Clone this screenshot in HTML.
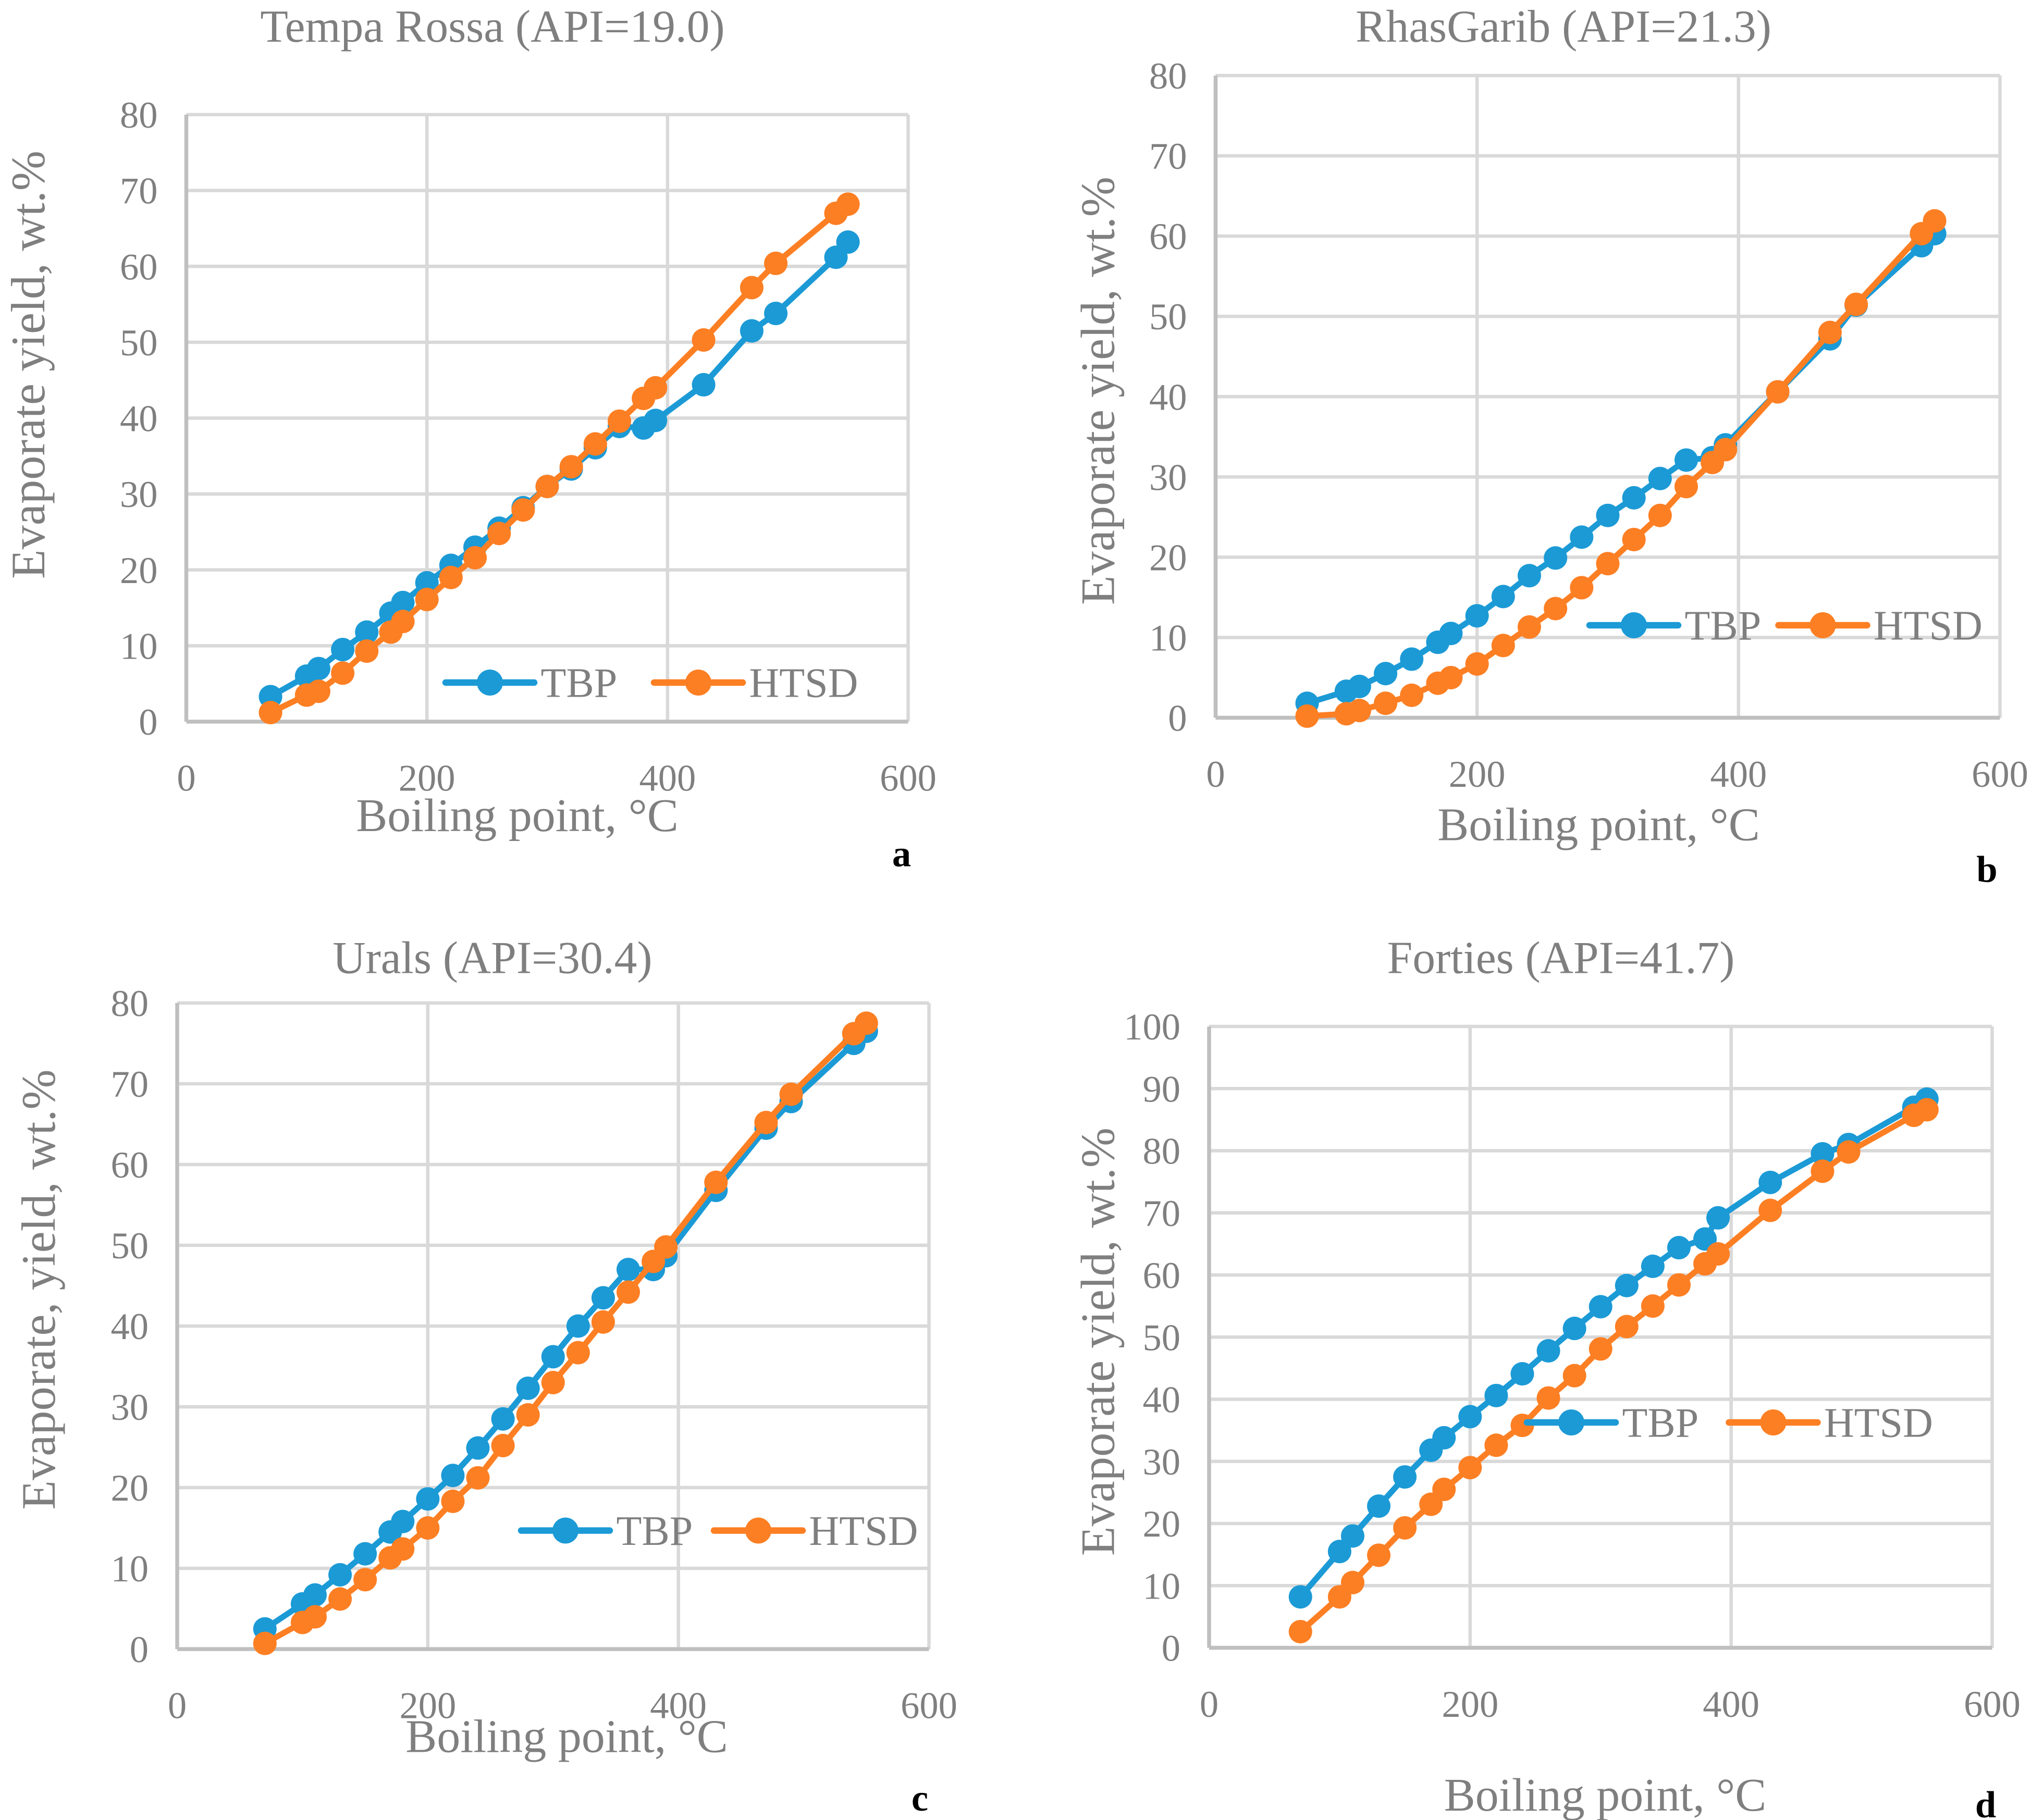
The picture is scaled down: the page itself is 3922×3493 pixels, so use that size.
<!DOCTYPE html>
<html><head><meta charset="utf-8">
<style>
html,body{margin:0;padding:0;background:#fff;}
svg{display:block;}
text{font-family:"Liberation Serif",serif;fill:#7f7f7f;}
</style></head>
<body>
<svg id="fig" width="3922" height="3493" viewBox="0 0 1568.8 1397.2" xmlns="http://www.w3.org/2000/svg"></svg>
<script>
const xVals = [70,100,110,130,150,170,180,200,220,240,260,280,300,320,340,360,380,390,430,470,490,540,550];
const tbpA = [3.3,6,7,9.5,11.8,14.3,15.7,18.3,20.6,23,25.5,28.2,31,33.3,36.1,38.9,38.7,39.7,44.4,51.5,53.8,61.2,63.2];
const htsdA = [1.2,3.5,4,6.4,9.3,11.8,13.2,16.1,19,21.6,24.8,27.9,31,33.6,36.6,39.6,42.6,44,50.3,57.2,60.4,67,68.2];
const tbpB = [1.8,3.3,3.9,5.5,7.3,9.4,10.5,12.7,15.1,17.7,19.9,22.5,25.2,27.4,29.8,32.1,32.4,34,40.6,47.2,51.4,58.8,60.3];
const htsdB = [0.2,0.5,0.9,1.8,2.8,4.3,5,6.7,9,11.3,13.6,16.2,19.2,22.2,25.2,28.8,31.8,33.4,40.6,48,51.5,60.3,61.9];
const tbpC = [2.5,5.6,6.7,9.2,11.8,14.5,15.8,18.6,21.5,24.9,28.5,32.3,36.2,40,43.5,47,47,48.7,56.8,64.5,67.8,75,76.5];
const htsdC = [0.7,3.3,4,6.2,8.6,11.3,12.4,15,18.3,21.2,25.2,29,33,36.7,40.5,44.2,48,49.8,57.8,65.2,68.7,76.2,77.5];
const tbpD = [8.2,15.5,18,22.8,27.5,31.8,33.8,37.2,40.6,44.1,47.8,51.4,54.9,58.3,61.4,64.4,65.8,69.2,74.9,79.5,81,87,88.3];
const htsdD = [2.6,8.2,10.5,14.9,19.3,23.1,25.5,29,32.6,35.8,40.2,43.8,48.1,51.7,55,58.4,61.8,63.4,70.4,76.7,79.8,85.7,86.6];
const xTicks = [0,200,400,600];
const titles = ["Tempa Rossa (API=19.0)","RhasGarib (API=21.3)","Urals (API=30.4)","Forties (API=41.7)"];
const yTitles = ["Evaporate yield, wt.%","Evaporate yield, wt.%","Evaporate, yield, wt.%","Evaporate yield, wt.%"];
const letters = ["a","b","c","d"];
const yMaxes = [80,80,80,100];

const NS="http://www.w3.org/2000/svg";
const svg=document.getElementById('fig');
function mk(tag,attrs,parent){const e=document.createElementNS(NS,tag);for(const k in attrs)e.setAttribute(k,attrs[k]);(parent||svg).appendChild(e);return e;}

const panels=[
 {x0:143,x1:697,y0:554,y1:88,title:[378,30],yt:[22,280],xt:[397,638],let:[692,655],leg:[342,502,524],tb:tbpA,ht:htsdA},
 {x0:933,x1:1535,y0:551,y1:58,title:[1200,30],yt:[843,300],xt:[1227,645],let:[1525,667],leg:[1220,1365,480],tb:tbpB,ht:htsdB},
 {x0:136,x1:713,y0:1266,y1:770,title:[378,745],yt:[30,990],xt:[435,1345],let:[706,1380],leg:[400,548,1175],tb:tbpC,ht:htsdC},
 {x0:928,x1:1529,y0:1265,y1:788,title:[1198,745],yt:[843,1030],xt:[1232,1390],let:[1524,1385],leg:[1172,1327,1092],tb:tbpD,ht:htsdD}
];
const BLUE="#1b9ad6", ORANGE="#fd7f23";

panels.forEach((p,i)=>{
  const g=mk('g',{});
  
  
  const yMax=yMaxes[i];
  const sx=v=>p.x0+(v/600)*(p.x1-p.x0);
  const sy=v=>p.y0-(v/yMax)*(p.y0-p.y1);
  for(let v=10;v<=yMax;v+=10){
    const l=mk('line',{x1:p.x0,x2:p.x1,y1:sy(v),y2:sy(v),stroke:'#d9d9d9','stroke-width':2.6},g);
    
    
  }
  xTicks.forEach(t=>{
    if(t>0){const l=mk('line',{x1:sx(t),x2:sx(t),y1:p.y1,y2:p.y0,stroke:'#d9d9d9','stroke-width':2.6},g);
    
    }
    const tx=mk('text',{x:sx(t),y:p.y0+53,'font-size':29,'text-anchor':'middle'},g);
    tx.textContent=t;
    
    
  });
  for(let v=0;v<=yMax;v+=10){
    const tx=mk('text',{x:p.x0-22,y:sy(v)+10,'font-size':29,'text-anchor':'end'},g);
    tx.textContent=v;
    
    
  }
  const ya=mk('line',{x1:p.x0,x2:p.x0,y1:p.y1,y2:p.y0,stroke:'#bfbfbf','stroke-width':3},g);
  
  
  const xa=mk('line',{x1:p.x0,x2:p.x1,y1:p.y0,y2:p.y0,stroke:'#bfbfbf','stroke-width':3},g);
  
  
  [[p.tb,BLUE,'tbp'],[p.ht,ORANGE,'htsd']].forEach(([arr,col,nm])=>{
    const pts=xVals.map((x,k)=>sx(x)+','+sy(arr[k])).join(' ');
    const pl=mk('polyline',{points:pts,fill:'none',stroke:col,'stroke-width':4.5,'stroke-linejoin':'round'},g);
    
    
    xVals.forEach((x,k)=>{
      const c=mk('circle',{cx:sx(x),cy:sy(arr[k]),r:9,fill:col},g);
      
      
    });
  });
  const L=p.leg;
  [[L[0],BLUE,'TBP','legend-tbp'],[L[1],ORANGE,'HTSD','legend-htsd']].forEach(([lx,col,lab,nm])=>{
    const lg=mk('g',{},g);
    
    
    mk('line',{x1:lx,x2:lx+68,y1:L[2],y2:L[2],stroke:col,'stroke-width':5,'stroke-linecap':'round'},lg);
    mk('circle',{cx:lx+34,cy:L[2],r:10,fill:col},lg);
    const t=mk('text',{x:lx+73,y:L[2]+11,'font-size':32},lg);
    t.textContent=lab;
  });
  const tt=mk('text',{x:p.title[0],y:p.title[1]+2,'font-size':35,'text-anchor':'middle'},g);
  tt.textContent=titles[i];
  
  
  const xt=mk('text',{x:p.xt[0],y:p.xt[1],'font-size':36,'text-anchor':'middle'},g);
  xt.textContent="Boiling point, °C";
  
  
  const yt=mk('text',{x:0,y:0,'font-size':37,'text-anchor':'middle',transform:`translate(${p.yt[0]+12},${p.yt[1]}) rotate(-90)`},g);
  yt.textContent=yTitles[i];
  
  
  const lt=mk('text',{x:p.let[0],y:p.let[1]+10,'font-size':29,'font-weight':'bold','text-anchor':'middle',style:'fill:#000'},g);
  lt.textContent=letters[i];
  
  
});
</script>
</body></html>
